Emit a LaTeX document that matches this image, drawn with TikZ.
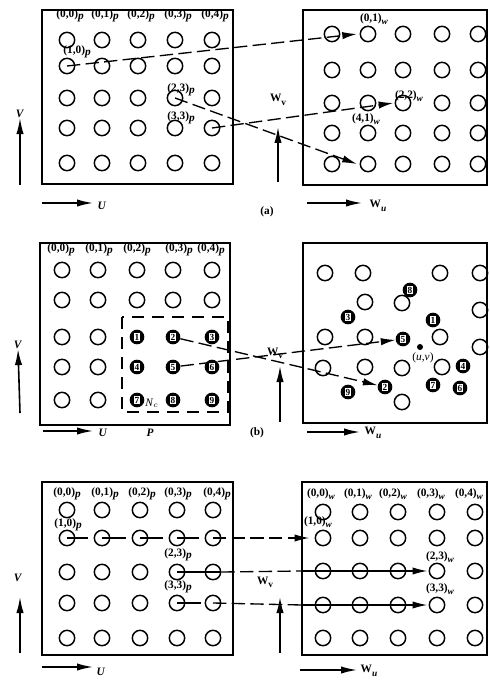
\documentclass[tikz,border=0pt]{standalone}
\usepackage{fontspec}
\setmainfont{Liberation Serif}
\usetikzlibrary{arrows.meta,positioning}

\newcommand{\plab}[1]{\textbf{(#1)}\raisebox{-1.5pt}{\textbf{\textit{p}}}}
\newcommand{\wlab}[1]{\textbf{(#1)}\raisebox{-2pt}{\scriptsize\textbf{\textit{w}}}}
\newcommand{\numbox}[1]{{\fboxsep=0.6pt\colorbox{white}{\fontsize{7}{7}\selectfont\bfseries #1}}}
\newcommand{\Wv}{\textbf{W}\raisebox{-2.5pt}{\scriptsize\textbf{v}}}
\newcommand{\Wu}{\textbf{W}\raisebox{-2.5pt}{\scriptsize\textbf{\textit{u}}}}

\begin{document}
\begin{tikzpicture} [
    x=0.75pt, y=-0.75pt,
    font=\fontsize{8.5}{10}\selectfont,
    frame/.style={draw, line width=1.3pt},
    hole/.style={circle, draw, line width=1.1pt, minimum size=11.5pt, inner sep=0pt},
    dot/.style={circle, fill=black, minimum size=11pt, inner sep=0pt},
    link/.style={line width=1pt},
    longdash/.style={dash pattern=on 10pt off 4pt},
    tip/.style={-{Latex[length=11pt,width=5.5pt]}},
    axis/.style={line width=1.2pt, -{Latex[length=12pt,width=5.5pt]}},
    lab/.style={inner sep=0pt}
]
\useasboundingbox (0,0) rectangle (489,681);

% ---------------- (a) ----------------
\draw[frame] (42,10) rectangle (233,184);
\draw[frame] (303,10) rectangle (487,185);
\foreach \r/\y in {0/40,1/66,2/98,3/128,4/163}
  \foreach \c/\x in {0/67,1/102,2/138,3/175,4/212}
    \node[hole] (ap\r\c) at (\x,\y) {};
\foreach \r/\y in {0/34,1/70,2/103,3/133,4/164}
  \foreach \c/\x in {0/332,1/368,2/403,3/442,4/478}
    \node[hole] (aw\r\c) at (\x,\y) {};

\foreach \c/\x in {0/70,1/105,2/141,3/178,4/215}
  \node[lab] at (\x,16) {\plab{0,\c}};
\node[lab] at (77,52) {\plab{1,0}};
\node[lab] at (181,90) {\plab{2,3}};
\node[lab] at (181,118) {\plab{3,3}};
\node[lab] at (374,19) {\wlab{0,1}};
\node[lab] at (409,96) {\wlab{2,2}};
\node[lab] at (366,119) {\wlab{4,1}};

\draw[link, longdash, tip] (ap10.center) -- ([xshift=-2pt]aw01.west);
\draw[link, longdash, tip] (ap23.center) -- ([xshift=-2pt]aw41.west);
\draw[link, longdash, tip] (ap34.center) -- ([xshift=-1pt]aw22.west);

\node[lab] (va) at (20,114) {\textbf{\textit{V}}};
\draw[axis] (20,185) -- (va.south);
\node[lab] (ua) at (102,206) {\textbf{\textit{U}}};
\draw[axis] (42,203) -- (93,203);
\node[lab] (wva) at (278,100) {\Wv};
\draw[axis] (278,182) -- (278,127);
\node[lab] (wua) at (378,206) {\Wu};
\draw[axis] (307,203) -- (362,203);
\node[lab] (capa) at (267,212) {\textbf{(a)}};

% ---------------- (b) ----------------
\draw[frame] (40,243) rectangle (230,425);
\draw[frame] (303,243) rectangle (487,423);
\foreach \r/\y in {0/270,1/300}
  \foreach \c/\x in {0/62,1/98,2/137,3/173,4/212}
    \node[hole] (bp\r\c) at (\x,\y) {};
\foreach \r/\y in {2/337,3/367,4/400}
  \foreach \c/\x in {0/62,1/98}
    \node[hole] (bp\r\c) at (\x,\y) {};
\foreach \r/\y in {2/337,3/367,4/400}
  \foreach \c/\x in {2/137,3/173,4/212} {
    \pgfmathtruncatemacro\n{3*(\r-2)+\c-1}
    \node[dot] (bp\r\c) at (\x,\y) {\numbox{\n}};
  }
\draw[line width=0.9pt, dash pattern=on 9pt off 6pt] (122,317) rectangle (228,412);
\node[lab] (nc) at (152,403) {\textit{N}$_c$};

\foreach \c/\x in {0/61,1/99,2/137,3/179,4/211}
  \node[lab] at (\x,250) {\plab{0,\c}};

\foreach \x/\y [count=\i] in {325/273, 363/273, 440/273, 480/273,
    365/302, 402/303, 480/310, 325/337, 365/337, 440/337, 480/347,
    323/368, 365/367, 402/368, 442/367, 402/402}
  \node[hole] (bo\i) at (\x,\y) {};
\foreach \n/\x/\y in {1/433/320, 2/385/387, 3/348/317, 4/463/366, 5/403/339,
    6/460/388, 7/433/385, 8/410/290, 9/348/392}
  \node[dot] (bw\n) at (\x,\y) {\numbox{\n}};
\node[circle, fill=black, minimum size=4.5pt, inner sep=0pt] (uv) at (420,347) {};
\node[lab] (uvlab) at (423,358) {(\textit{u},\textit{v})};

\draw[link, longdash, tip] (bp23) -- (bw2);
\draw[link, longdash, tip] (bp33) -- (bw5);

\node[lab] (vb) at (18,345) {\textbf{\textit{V}}};
\draw[axis] (20,413) -- (vb.south);
\draw[axis] (43,431) -- (93,431);
\node[lab] (ub) at (103,433) {\textbf{\textit{U}}};
\node[lab] (pb) at (150,433) {\textbf{\textit{P}}};
\node[lab] (wvb) at (275,353) {\Wv};
\draw[axis] (280,422) -- (280,366);
\draw[axis] (307,432) -- (360,432);
\node[lab] (wub) at (373,433) {\Wu};
\node[lab] (capb) at (257,433) {\textbf{(b)}};

% ---------------- (c) ----------------
\draw[frame] (42,482) rectangle (233,655);
\draw[frame] (302,482) rectangle (487,655);
\coordinate (cR) at (302,482);
\foreach \r/\y in {0/510,1/538,2/572,3/603,4/638}
  \foreach \c/\x in {0/67,1/102,2/140,3/177,4/213}
    \node[hole] (cp\r\c) at (\x,\y) {};
\foreach \r/\y in {0/512,1/538,2/571,3/605,4/638}
  \foreach \c/\x in {0/323,1/360,2/398,3/437,4/475}
    \node[hole] (cw\r\c) at (\x,\y) {};

\foreach \c/\x in {0/67,1/105,2/142,3/178,4/217}
  \node[lab] at (\x,494) {\plab{0,\c}};
\node[lab] at (68,525) {\plab{1,0}};
\node[lab] at (178,555) {\plab{2,3}};
\node[lab] at (178,587) {\plab{3,3}};
\foreach \c/\x in {0/321,1/358,2/393,3/431,4/469}
  \node[lab] at (\x,494) {\wlab{0,\c}};
\node[lab] at (318,522) {\wlab{1,0}};
\node[lab] at (440,557) {\wlab{2,3}};
\node[lab] at (440,589) {\wlab{3,3}};

% row 1
\foreach \c [evaluate=\c as \d using int(\c+1)] in {0,...,3}
  \draw[link] (cp1\c.center) -- ([xshift=-4pt]cp1\d.west);
\draw[link, longdash, tip] (cp14.center) -- ([xshift=-4pt]cw10.west);
% row 2
\draw[link] (cp23.center) -- (cp24.east);
\draw[link, longdash] (cp24.east) -- (cw20 -| cR);
\draw[link, tip] (cw20 -| cR) -- ([xshift=-1pt]cw23.west);
% row 3
\draw[link] (cp33.center) -- ([xshift=-3pt]cp34.west);
\draw[link, longdash] (cp34.center) -- (cw30 -| cR);
\draw[link, tip] (cw30 -| cR) -- ([xshift=-1pt]cw33.west);

\node[lab] (vc) at (18,578) {\textbf{\textit{V}}};
\draw[axis] (20,653) -- (20,597);
\draw[axis] (42,667) -- (93,667);
\node[lab] (uc) at (101,672) {\textbf{\textit{U}}};
\node[lab] (wvc) at (265,582) {\Wv};
\draw[axis] (280,653) -- (280,597);
\draw[axis] (300,670) -- (357,670);
\node[lab] (wuc) at (369,671) {\Wu};

\end{tikzpicture}
\end{document}
